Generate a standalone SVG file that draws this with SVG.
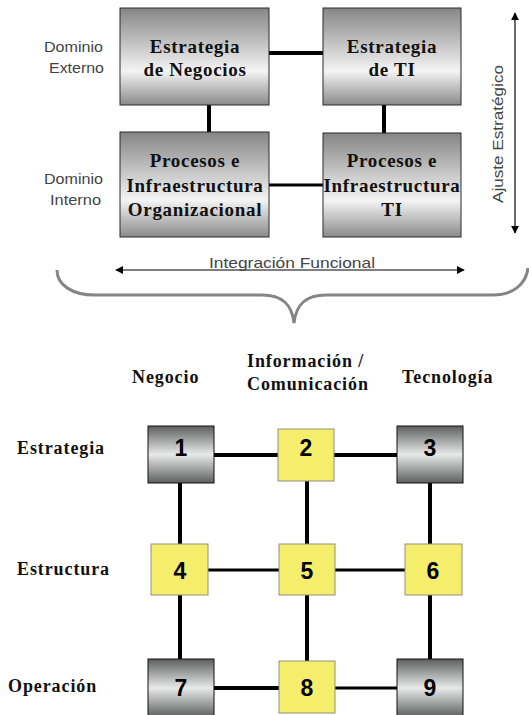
<svg xmlns="http://www.w3.org/2000/svg" width="529" height="715" viewBox="0 0 529 715">
  <defs>
    <linearGradient id="bigGrad" x1="0" y1="0" x2="0" y2="1">
      <stop offset="0" stop-color="#858585"/>
      <stop offset="0.65" stop-color="#f4f4f4"/>
      <stop offset="1" stop-color="#8a8a8a"/>
    </linearGradient>
    <linearGradient id="smallGrad" x1="0" y1="0" x2="0" y2="1">
      <stop offset="0" stop-color="#5e5e5e"/>
      <stop offset="0.5" stop-color="#e8eaea"/>
      <stop offset="1" stop-color="#5e5e5e"/>
    </linearGradient>
    <marker id="arrowHead" viewBox="0 0 10 10" refX="9" refY="5" markerWidth="8" markerHeight="8" markerUnits="userSpaceOnUse" orient="auto-start-reverse">
      <path d="M0,0 L10,5 L0,10 z" fill="#000"/>
    </marker>
    <style>
      .big { fill: url(#bigGrad); stroke: #2a2a2a; stroke-width: 1; }
      .gray { fill: url(#smallGrad); stroke: #111; stroke-width: 1; }
      .yellow { fill: #f5ee6c; stroke: #8f8f80; stroke-width: 1; }
      .boxText { font-family: "Liberation Serif", "Times New Roman", serif; font-weight: bold; font-size: 19px; letter-spacing: 0.7px; fill: #111; text-anchor: middle; }
      .label { font-family: "Liberation Serif", "Times New Roman", serif; font-weight: bold; font-size: 18px; letter-spacing: 0.9px; fill: #111; }
      .sans { font-family: "Liberation Sans", Arial, sans-serif; font-size: 15px; fill: #444; }
      .num { font-family: "Liberation Sans", Arial, sans-serif; font-weight: bold; font-size: 23px; fill: #000; text-anchor: middle; }
      .link { stroke: #000; fill: none; }
      .thick { stroke-width: 4; }
      .thin { stroke-width: 3; }
      .arrow { stroke: #000; stroke-width: 1.2; fill: none; marker-start: url(#arrowHead); marker-end: url(#arrowHead); }
    </style>
  </defs>
  <rect width="529" height="715" fill="#fff"/>

  <!-- connectors -->
  <g id="connectors">
    <!-- upper model -->
    <line class="link thick" x1="269" y1="53" x2="323" y2="53"/>
    <line class="link thick" x1="209" y1="105" x2="209" y2="132"/>
    <line class="link thick" x1="384" y1="105" x2="384" y2="133"/>
    <line class="link thin" x1="269" y1="185" x2="323" y2="185"/>
    <!-- lower grid -->
    <line class="link thick" x1="214" y1="455" x2="278" y2="455"/>
    <line class="link thick" x1="334" y1="455" x2="397" y2="455"/>
    <line class="link thick" x1="180" y1="483" x2="180" y2="544"/>
    <line class="link thick" x1="307" y1="481" x2="307" y2="544"/>
    <line class="link thick" x1="430" y1="483" x2="430" y2="544"/>
    <line class="link thin" x1="208" y1="570" x2="279" y2="570"/>
    <line class="link thin" x1="335" y1="570" x2="405" y2="570"/>
    <line class="link thick" x1="180" y1="595" x2="180" y2="659"/>
    <line class="link thick" x1="307" y1="595" x2="307" y2="661"/>
    <line class="link thick" x1="430" y1="595" x2="430" y2="659"/>
    <line class="link thick" x1="214" y1="688" x2="279" y2="688"/>
    <line class="link thin" x1="335" y1="688" x2="397" y2="688"/>
  </g>

  <!-- domain labels -->
  <g id="domain-labels">
    <text class="sans" x="44" y="52" textLength="59" lengthAdjust="spacingAndGlyphs">Dominio</text>
    <text class="sans" x="49" y="73" textLength="55" lengthAdjust="spacingAndGlyphs">Externo</text>
    <text class="sans" x="44" y="184" textLength="59" lengthAdjust="spacingAndGlyphs">Dominio</text>
    <text class="sans" x="50" y="205" textLength="51" lengthAdjust="spacingAndGlyphs">Interno</text>
  </g>

  <!-- upper model nodes -->
  <g id="estrategia-negocios">
    <rect class="big" x="120" y="8" width="149" height="97"/>
    <text class="boxText" x="195" y="53">Estrategia</text>
    <text class="boxText" x="195" y="76">de Negocios</text>
  </g>
  <g id="estrategia-ti">
    <rect class="big" x="323" y="8" width="138" height="97"/>
    <text class="boxText" x="392" y="53">Estrategia</text>
    <text class="boxText" x="392" y="76">de TI</text>
  </g>
  <g id="infraestructura-organizacional">
    <rect class="big" x="120" y="132" width="149" height="105"/>
    <text class="boxText" x="195" y="167">Procesos e</text>
    <text class="boxText" x="195" y="192">Infraestructura</text>
    <text class="boxText" x="195" y="216">Organizacional</text>
  </g>
  <g id="infraestructura-ti">
    <rect class="big" x="323" y="133" width="138" height="104"/>
    <text class="boxText" x="392" y="167">Procesos e</text>
    <text class="boxText" x="392" y="192">Infraestructura</text>
    <text class="boxText" x="392" y="216">TI</text>
  </g>

  <!-- strategic fit axis -->
  <g id="ajuste-estrategico">
    <line class="arrow" x1="515" y1="13" x2="515" y2="233"/>
    <text class="sans" transform="translate(503,203) rotate(-90)" font-size="16" textLength="138" lengthAdjust="spacingAndGlyphs">Ajuste Estratégico</text>
  </g>

  <!-- functional integration axis -->
  <g id="integracion-funcional">
    <line class="arrow" x1="116" y1="270" x2="464" y2="270"/>
    <text class="sans" x="209" y="268" font-size="16" textLength="166" lengthAdjust="spacingAndGlyphs">Integración Funcional</text>
  </g>

  <!-- brace -->
  <g id="brace">
    <path d="M57,270 C57,285 72,295 95,295 L262,295 C283,295 292,305 294,323 C296,305 305,295 326,295 L493,295 C512,295 526,285 528,268" fill="none" stroke="#858585" stroke-width="3"/>
  </g>

  <!-- column headers -->
  <g id="column-headers">
    <text class="label" x="132" y="383">Negocio</text>
    <text class="label" x="247" y="367">Información /</text>
    <text class="label" x="247" y="390">Comunicación</text>
    <text class="label" x="402" y="383">Tecnología</text>
  </g>

  <!-- row headers -->
  <g id="row-headers">
    <text class="label" x="17" y="454">Estrategia</text>
    <text class="label" x="17" y="575">Estructura</text>
    <text class="label" x="8" y="692">Operación</text>
  </g>

  <!-- lower grid nodes -->
  <g id="cell-1">
    <rect class="gray" x="148" y="426" width="66" height="57"/>
    <text class="num" x="181" y="456">1</text>
  </g>
  <g id="cell-2">
    <rect class="yellow" x="278" y="429" width="56" height="52"/>
    <text class="num" x="306" y="456">2</text>
  </g>
  <g id="cell-3">
    <rect class="gray" x="397" y="426" width="66" height="57"/>
    <text class="num" x="430" y="456">3</text>
  </g>
  <g id="cell-4">
    <rect class="yellow" x="151" y="544" width="57" height="51"/>
    <text class="num" x="180" y="579">4</text>
  </g>
  <g id="cell-5">
    <rect class="yellow" x="279" y="544" width="56" height="51"/>
    <text class="num" x="307" y="579">5</text>
  </g>
  <g id="cell-6">
    <rect class="yellow" x="405" y="544" width="57" height="51"/>
    <text class="num" x="433" y="579">6</text>
  </g>
  <g id="cell-7">
    <rect class="gray" x="148" y="659" width="66" height="58"/>
    <text class="num" x="181" y="696">7</text>
  </g>
  <g id="cell-8">
    <rect class="yellow" x="279" y="661" width="56" height="52"/>
    <text class="num" x="307" y="696">8</text>
  </g>
  <g id="cell-9">
    <rect class="gray" x="397" y="659" width="66" height="58"/>
    <text class="num" x="430" y="696">9</text>
  </g>
</svg>
